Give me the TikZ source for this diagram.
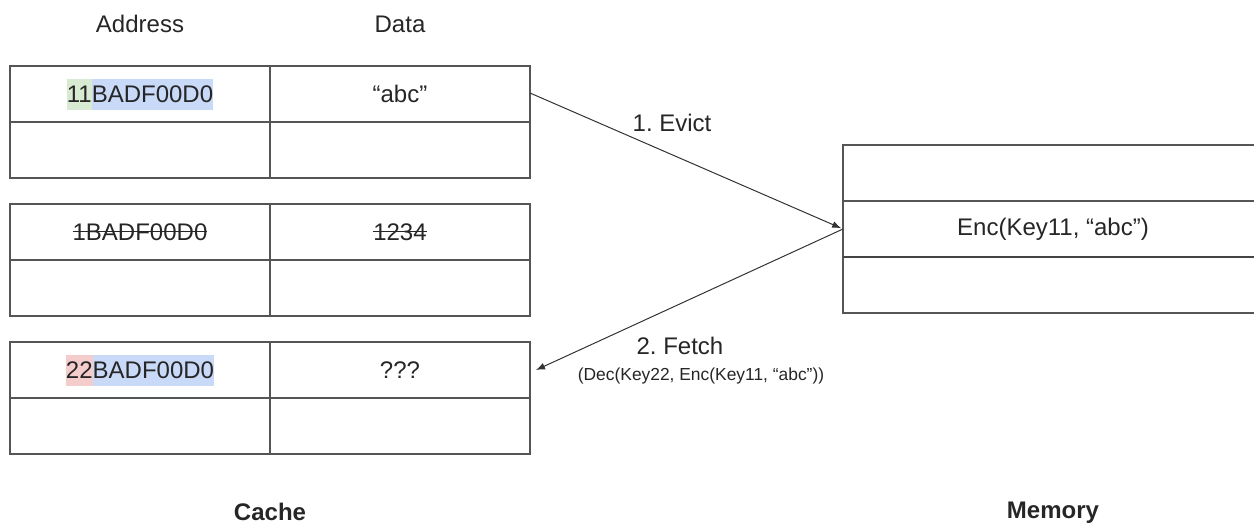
\documentclass[tikz,border=0pt]{standalone}
\usepackage{fontspec}
\setmainfont{Liberation Sans}
\usetikzlibrary{arrows.meta,positioning}

\definecolor{keygreen}{HTML}{D9EAD3}
\definecolor{keyblue}{HTML}{C9DAF8}
\definecolor{keyred}{HTML}{F4CCCC}
\definecolor{linegray}{HTML}{555555}
\definecolor{textgray}{HTML}{262626}

\newcommand{\hlbox}[2]{{\setlength{\fboxsep}{0pt}\colorbox{#1}{\rule[-3.3pt]{0pt}{15.5pt}#2}}}
\newsavebox{\strikebox}
\newcommand{\strikeout}[1]{\sbox{\strikebox}{#1}\rlap{\usebox{\strikebox}}\rule[3.9pt]{\wd\strikebox}{0.7pt}}
\frenchspacing

\begin{document}
\begin{tikzpicture}[x=0.5pt, y=-0.5pt, node distance=0pt,
    font=\fontsize{12}{14}\selectfont, text=textgray,
    >={Latex[length=4.5pt,width=3.5pt]},
    cell/.style={draw=linegray, line width=0.6pt, minimum width=130pt,
      minimum height=28pt, inner sep=0pt, outer sep=0pt},
    memcell/.style={cell, minimum width=210pt},
    title/.style={font=\fontsize{12}{14}\selectfont\bfseries},
    flow/.style={->, draw=black!80, line width=0.5pt}]
   \useasboundingbox (0,0) rectangle (1254,525);
   \clip (0,0) rectangle (1254,525);

   % cache lines
   \node [cell, anchor=north west] (t1a) at (10,66)
      {\hlbox{keygreen}{11}\hlbox{keyblue}{BADF00D0}};
   \node [cell, right=of t1a] (t1d) {“abc”};
   \node [cell, below=of t1a] (t1ax) {};
   \node [cell, below=of t1d] (t1dx) {};

   \node [cell, below=13pt of t1ax] (t2a) {\strikeout{1BADF00D0}};
   \node [cell, right=of t2a] (t2d) {\strikeout{1234}};
   \node [cell, below=of t2a] (t2ax) {};
   \node [cell, below=of t2d] (t2dx) {};

   \node [cell, below=13pt of t2ax] (t3a)
      {\hlbox{keyred}{22}\hlbox{keyblue}{BADF00D0}};
   \node [cell, right=of t3a] (t3d) {???};
   \node [cell, below=of t3a] (t3ax) {};
   \node [cell, below=of t3d] (t3dx) {};

   \node [above=21pt of t1a.north, anchor=center] (addr) {Address};
   \node [above=21pt of t1d.north, anchor=center] (data) {Data};
   \node [title, below=29pt of t3ax.south east, anchor=center] (cache) {Cache};

   % memory
   \node [memcell, anchor=north west] (m1) at (843,145) {};
   \node [memcell, below=of m1] (m2) {Enc(Key11, “abc”)};
   \node [memcell, below=of m2] (m3) {};
   \draw [line width=1.3pt, draw=linegray!80!black] (m2.south west) -- (m2.south east);
   \node [title, below=100pt of m3.south, anchor=center] (memory) {Memory};

   % evict / fetch
   \draw [flow, shorten >=1pt] ([yshift=0.5pt]t1d.east) -- (m2.west);
   \draw [flow] (m2.west) -- ([xshift=3pt]t3d.east);
   \node (evict) at (672,123) {1. Evict};
   \node (fetch) at (680,346) {2. Fetch};
   \node [font=\fontsize{8.7}{10}\selectfont] (fetchsub) at (701,376)
      {(Dec(Key22, Enc(Key11, “abc”))};
\end{tikzpicture}
\end{document}
